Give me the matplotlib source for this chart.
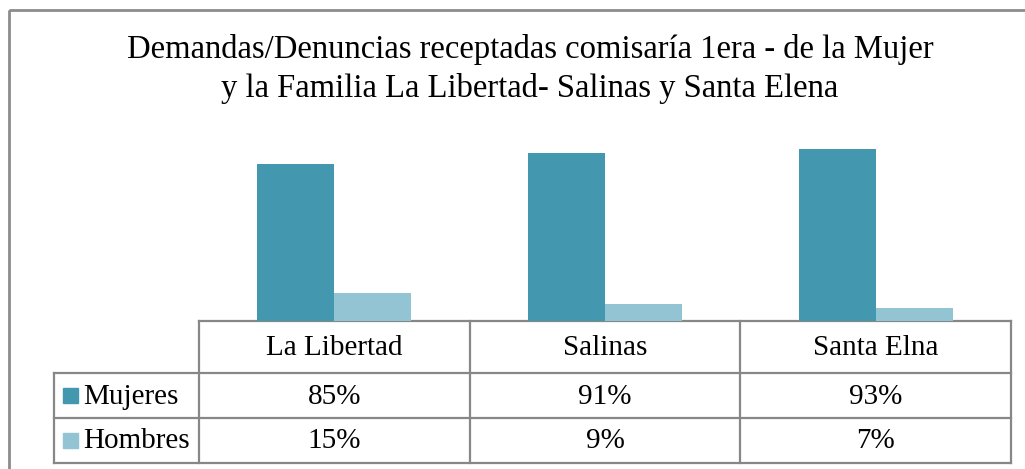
import matplotlib
matplotlib.use("Agg")
import matplotlib.pyplot as plt
from matplotlib.patches import Rectangle

categories = ["La Libertad", "Salinas", "Santa Elna"]
series_names = ["Mujeres", "Hombres"]
mujeres = [85, 91, 93]
hombres = [15, 9, 7]
title = "Demandas/Denuncias receptadas comisaría 1era - de la Mujer\ny la Familia La Libertad- Salinas y Santa Elena"

colors = ["#4398B0", "#93C4D4"]
grid_c = "#878787"
W, H = 1025, 469
plt.rcParams['font.family'] = ['Liberation Serif', 'DejaVu Serif']

fig = plt.figure(figsize=(W/100, H/100), dpi=100)

# overlay in pixel coords
ov = fig.add_axes([0, 0, 1, 1])
ov.set_xlim(0, W)
ov.set_ylim(H, 0)
ov.axis('off')

# outer border
ov.add_patch(Rectangle((9, 10), W + 20, H + 20, fill=False, edgecolor="#8c8c8c", lw=2))

ov.text(530, 69, title, ha='center', va='center', fontsize=23.5, linespacing=1.3)

# bars
x0, x1 = 199, 1011
base, top100 = 321, 136
ax = fig.add_axes([x0/W, (H-base)/H, (x1-x0)/W, (base-top100)/H])
ax.set_xlim(-0.5, len(categories) - 0.5)
ax.set_ylim(0, 100)
ax.axis('off')
bw = 0.285
xs = list(range(len(categories)))
ax.bar([x - bw/2 for x in xs], mujeres, width=bw, color=colors[0])
ax.bar([x + bw/2 for x in xs], hombres, width=bw, color=colors[1])

# table
rows_y = [321, 373, 418, 463]
lx = 54
cw = (x1 - x0) / len(categories)
lw = 1.6
fs = 21
ov.plot([x0, x1], [rows_y[0], rows_y[0]], color=grid_c, lw=lw)
for i in range(len(categories) + 1):
    xx = x0 + i * cw
    ov.plot([xx, xx], [rows_y[0], rows_y[3]], color=grid_c, lw=lw)
for yy in rows_y[1:]:
    ov.plot([lx, x1], [yy, yy], color=grid_c, lw=lw)
ov.plot([lx, lx], [rows_y[1], rows_y[3]], color=grid_c, lw=lw)

for i, c in enumerate(categories):
    ov.text(x0 + (i + 0.5) * cw, (rows_y[0] + rows_y[1]) / 2 + 1, c, ha='center', va='center', fontsize=fs)

data = [mujeres, hombres]
for r, (name, vals) in enumerate(zip(series_names, data)):
    yc = (rows_y[r + 1] + rows_y[r + 2]) / 2
    ov.add_patch(Rectangle((63, yc - 7.5), 15, 15, color=colors[r]))
    ov.text(83, yc + 1, name, ha='left', va='center', fontsize=fs)
    for i, v in enumerate(vals):
        ov.text(x0 + (i + 0.5) * cw, yc + 1, f"{v}%", ha='center', va='center', fontsize=fs)

fig.savefig("out.png", dpi=100)
